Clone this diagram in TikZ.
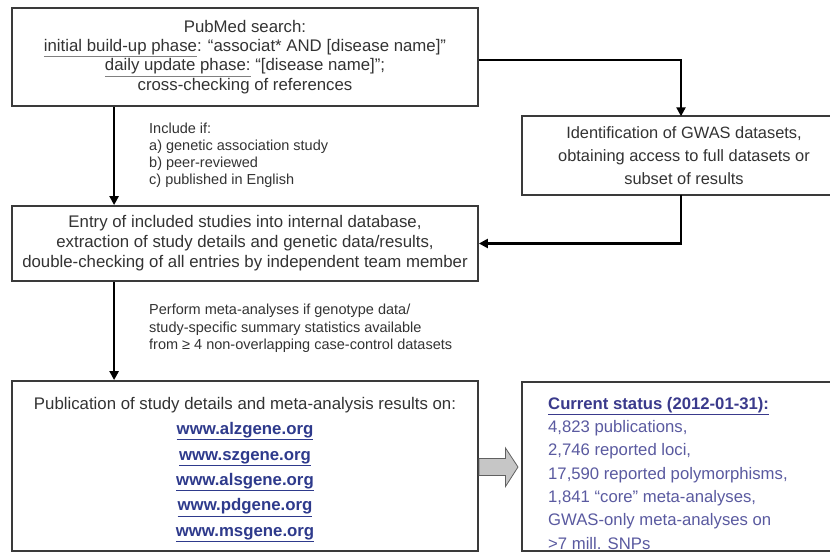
\documentclass[tikz,border=0pt]{standalone}
\usepackage{fontspec}
\setmainfont{Liberation Sans}
\usetikzlibrary{arrows.meta}
\definecolor{boxc}{HTML}{3A3A3A}
\definecolor{txt}{HTML}{333333}
\definecolor{urlc}{HTML}{2E3A8C}
\definecolor{statc}{HTML}{5A5AA0}
\definecolor{stath}{HTML}{3A3A8C}
\newcommand{\myul}[1]{\underline{#1}}
\begin{document}
\begin{tikzpicture}[x=1pt,y=-1pt,
  box/.style={draw=boxc,line width=1.8pt,align=center,text=txt,inner sep=0pt,
    font=\fontsize{16.8}{19.2}\selectfont},
  openbox/.style={draw=none,align=center,text=txt,inner sep=0pt,
    font=\fontsize{16.4}{22.8}\selectfont},
  boxline/.style={draw=boxc,line width=1.8pt},
  note/.style={align=left,text=txt,inner sep=0pt,anchor=north west},
  arr/.style={line width=2.3pt,-{Triangle[length=9pt,width=9pt]}},
  blk/.style={draw=gray!75!black,fill=gray!45,line width=0.8pt}
]
\useasboundingbox (0,0) rectangle (830,552);
\fill[white] (0,0) rectangle (830,552);

% top box
\node[box,minimum width=466pt,minimum height=98pt] (top) at (245,57)
  {PubMed search:\\
   \textcolor{gray}{\myul{\textcolor{txt}{initial build-up phase}}}: “associat* AND [disease name]”\\
   \textcolor{gray}{\myul{\textcolor{txt}{daily update phase:}}} “[disease name]”;\\
   cross-checking of references};

% GWAS box (open to the right)
\coordinate (rx) at (830,0);
\coordinate (vx) at (681,0);
\node[openbox,minimum width=324pt,minimum height=78pt] (gwas) at (684,155.5)
  {Identification of GWAS datasets,\\obtaining access to full datasets or\\subset of results};
\draw[boxline] (gwas.north -| rx) -- (gwas.north west) -- (gwas.south west) -- (gwas.south -| rx);

% middle box
\node[box,minimum width=466pt,minimum height=75pt,font=\fontsize{16.8}{20}\selectfont] (mid) at (245,243.5)
  {Entry of included studies into internal database,\\
   extraction of study details and genetic data/results,\\
   double-checking of all entries by independent team member};

% bottom left box
\node[box,minimum width=466pt,minimum height=170pt] (pub) at (245,466) {};
\node[align=center,text=txt,inner sep=0pt,font=\fontsize{16.8}{25.4}\selectfont] (pubtxt) at (245,469.5)
  {Publication of study details and meta-analysis results on:\\
   \textcolor{urlc}{\bfseries\myul{www.alzgene.org}}\\
   \textcolor{urlc}{\bfseries\myul{www.szgene.org}}\\
   \textcolor{urlc}{\bfseries\myul{www.alsgene.org}}\\
   \textcolor{urlc}{\bfseries\myul{www.pdgene.org}}\\
   \textcolor{urlc}{\bfseries\myul{www.msgene.org}}};

% bottom right status box (open to the right)
\node[openbox,minimum width=324pt,minimum height=169pt] (sbox) at (684,466.5) {};
\draw[boxline] (sbox.north -| rx) -- (sbox.north west) -- (sbox.south west) -- (sbox.south -| rx);
\node[note,text=statc,font=\fontsize{16.7}{23.3}\selectfont] (stat) at (548,397)
  {\textcolor{stath}{\bfseries\myul{Current status (2012-01-31):}}\\
   4,823 publications,\\
   2,746 reported loci,\\
   17,590 reported polymorphisms,\\
   1,841 “core” meta-analyses,\\
   GWAS-only meta-analyses on\\
   >7 mill. SNPs};

% notes
\node[note,font=\fontsize{14.5}{16.8}\selectfont] (incl) at (149,123)
  {Include if:\\a) genetic association study\\b) peer-reviewed\\c) published in English};
\node[note,font=\fontsize{14.5}{17.5}\selectfont] (perf) at (149,304)
  {Perform meta-analyses if genotype data/\\
   study-specific summary statistics available\\
   from ≥ 4 non-overlapping case-control datasets};

% connectors
\draw[arr] ([xshift=103pt]top.south west) -- ([xshift=103pt]mid.north west);
\draw[arr] ([xshift=103pt]mid.south west) -- ([xshift=103pt]pub.north west);
\draw[arr] ([yshift=-3pt]top.east) -| (gwas.north -| vx);
\draw[arr] (gwas.south -| vx) |- (mid.east);

% block arrow
\draw[blk] (479,458.5) -- (505.5,458.5) -- (505.5,448) -- (518,467) -- (505.5,486.5)
  -- (505.5,475.5) -- (479,475.5) -- cycle;
\end{tikzpicture}
\end{document}
